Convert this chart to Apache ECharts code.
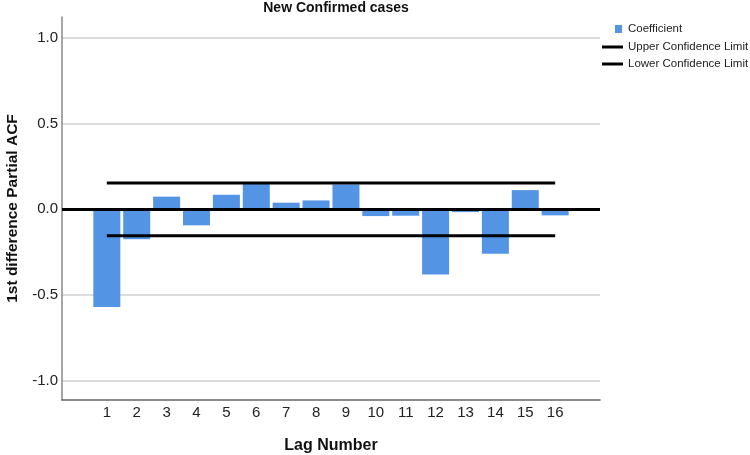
<!DOCTYPE html>
<html>
<head>
<meta charset="utf-8">
<script src="https://cdn.jsdelivr.net/npm/echarts@6/dist/echarts.min.js"></script>
<style>html,body{margin:0;padding:0;background:#fff}#c{width:750px;height:455px}</style>
</head>
<body>
<div id="c"></div>
<script>
var lags = ['1','2','3','4','5','6','7','8','9','10','11','12','13','14','15','16'];
var coefficient = [-0.568, -0.174, 0.074, -0.093, 0.085, 0.148, 0.039, 0.052, 0.145, -0.039, -0.037, -0.380, -0.016, -0.258, 0.112, -0.035];
var upperLimit = [0.153,0.153,0.153,0.153,0.153,0.153,0.153,0.153,0.153,0.153,0.153,0.153,0.153,0.153,0.153,0.153];
var lowerLimit = [-0.153,-0.153,-0.153,-0.153,-0.153,-0.153,-0.153,-0.153,-0.153,-0.153,-0.153,-0.153,-0.153,-0.153,-0.153,-0.153];
var yTickLabels = ['-1.0','-0.5','0.0','0.5','1.0'];

var FONT = '"Liberation Sans", Arial, sans-serif';
// pad one empty category at each end (the reference leaves space beside lag 1 and lag 16)
var cats = [''].concat(lags).concat(['']);
function pad(a){ return [null].concat(a).concat([null]); }

var chart = echarts.init(document.getElementById('c'), null, {renderer:'canvas'});
chart.setOption({
  animation: false,
  backgroundColor: '#ffffff',
  title: {
    text: 'New Confirmed cases',
    left: 331, top: -4, textAlign: 'center',
    textStyle: {fontFamily: FONT, fontSize: 14, fontWeight: 'bold', color: '#111'}
  },
  legend: [
    {
      data: ['Coefficient'], orient: 'vertical', left: 610, top: 17,
      itemWidth: 7, itemHeight: 8, icon: 'rect',
      textStyle: {fontFamily: FONT, fontSize: 11.5, color: '#222', lineHeight: 14, padding: [0,0,0,1]}
    },
    {
      data: [{name:'Upper Confidence Limit', icon:'rect'}, {name:'Lower Confidence Limit', icon:'rect'}],
      orient: 'vertical', left: 597, top: 35, itemGap: 3,
      itemWidth: 21, itemHeight: 3,
      textStyle: {fontFamily: FONT, fontSize: 11.5, color: '#222', lineHeight: 14}
    }
  ],
  grid: {left: 62, right: 150, top: 17, bottom: 55, containLabel: false, outerBoundsMode: 'none'},
  xAxis: {
    type: 'category', data: cats, boundaryGap: true,
    name: 'Lag Number', nameLocation: 'middle', nameGap: 38,
    nameTextStyle: {fontFamily: FONT, fontSize: 16, fontWeight: 'bold', color: '#111'},
    axisLine: {show: true, onZero: false, lineStyle: {color: '#666', width: 1.5}},
    axisTick: {show: false},
    axisLabel: {fontFamily: FONT, fontSize: 15, color: '#222', margin: 5, interval: 0},
    splitLine: {show: false}
  },
  yAxis: {
    type: 'value', min: -1.11, max: 1.12,
    name: '1st difference Partial ACF', nameLocation: 'middle', nameGap: 41, nameRotate: 90,
    nameTextStyle: {fontFamily: FONT, fontSize: 15.5, fontWeight: 'bold', color: '#111'},
    axisLine: {show: true, lineStyle: {color: '#888', width: 1.5}},
    axisTick: {show: false},
    axisLabel: {
      fontFamily: FONT, fontSize: 15, color: '#222', margin: 4,
      showMinLabel: false, showMaxLabel: false,
      formatter: function(v){
        var s = (Math.round(v*10)/10).toFixed(1);
        return yTickLabels.indexOf(s) >= 0 ? s : '';
      }
    },
    splitLine: {show: true, showMinLine: false, showMaxLine: false, lineStyle: {color: '#d0d0d0', width: 1.5}}
  },
  series: [
    {
      name: 'Coefficient', type: 'bar', data: pad(coefficient),
      barWidth: 27, z: 2,
      itemStyle: {color: '#5494E5'}
    },
    {
      name: 'Upper Confidence Limit', type: 'line', data: pad(upperLimit),
      symbol: 'none', z: 5, itemStyle: {color: '#000'},
      lineStyle: {color: '#000', width: 3},
      markLine: {
        silent: true, symbol: 'none', label: {show: false},
        lineStyle: {color: '#000', width: 3, type: 'solid'},
        data: [{yAxis: 0}]
      }
    },
    {
      name: 'Lower Confidence Limit', type: 'line', data: pad(lowerLimit),
      symbol: 'none', z: 5, itemStyle: {color: '#000'},
      lineStyle: {color: '#000', width: 3}
    }
  ]
});
</script>
</body>
</html>
